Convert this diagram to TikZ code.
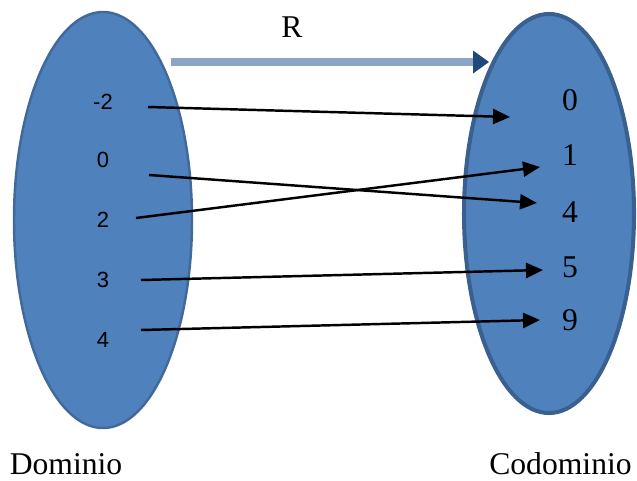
\documentclass[tikz,border=0pt]{standalone}
\usepackage{fontspec}
\setmainfont{Liberation Serif}
\newfontfamily\etiq{Liberation Sans}
\usetikzlibrary{arrows.meta}

\definecolor{conjunto}{HTML}{4F81BD}
\definecolor{bordeA}{HTML}{41699A}
\definecolor{bordeB}{HTML}{3A6090}
\definecolor{relacion}{HTML}{8DA5C4}
\definecolor{punta}{HTML}{1F487C}

\begin{document}
\begin{tikzpicture}[
  conj/.style={fill=conjunto},
  dom/.style={font=\etiq\fontsize{12.5}{14}\selectfont},
  cod/.style={font=\fontsize{18}{20}\selectfont},
  flecha/.style={line width=1.4pt,-{Triangle[length=0.34cm,width=0.3cm]}}
]
  \useasboundingbox (0,0) rectangle (12.74,9.6);

  %conjuntos
  \draw[conj,draw=bordeA,line width=1.4pt] (2.06,5.2) ellipse (1.78 and 4.16);
  \draw[conj,draw=bordeB,line width=2.3pt] (10.98,5.33) ellipse (1.70 and 3.99);

  %relacion R
  \node[cod,anchor=base] (R) at (5.84,8.86) {R};
  \coordinate (r0) at (3.42,8.36);
  \coordinate (r1) at (9.78,8.36);
  \draw[relacion,line width=4.5pt,-{Triangle[length=0.32cm,width=0.46cm,line width=0pt,color=punta]}] (r0) -- (r1);

  %dominio
  \node[dom] (dm2) at (2.06,7.56) {-2};
  \node[dom] (d0)  at (2.06,6.40) {0};
  \node[dom] (d2)  at (2.06,5.20) {2};
  \node[dom] (d3)  at (2.06,4.00) {3};
  \node[dom] (d4)  at (2.06,2.80) {4};

  %codominio
  \node[cod] (c0) at (11.40,7.60) {0};
  \node[cod] (c1) at (11.40,6.50) {1};
  \node[cod] (c4) at (11.40,5.36) {4};
  \node[cod] (c5) at (11.40,4.26) {5};
  \node[cod] (c9) at (11.40,3.20) {9};

  %pares
  \coordinate (s1) at (2.96,7.46);
  \coordinate (s2) at (2.98,6.10);
  \coordinate (s3) at (2.72,5.24);
  \coordinate (s4) at (2.82,4.00);
  \coordinate (s5) at (2.82,3.00);

  \coordinate (t1) at (10.20,7.26);
  \coordinate (t2) at (10.74,5.54);
  \coordinate (t3) at (10.80,6.26);
  \coordinate (t4) at (10.86,4.20);
  \coordinate (t5) at (10.80,3.20);

  \draw[flecha] (s1) -- (t1);
  \draw[flecha] (s2) -- (t2);
  \draw[flecha] (s3) -- (t3);
  \draw[flecha] (s4) -- (t4);
  \draw[flecha] (s5) -- (t5);

  %labels
  \node[cod,anchor=base,inner sep=1pt] (dom) at (1.32,0.12) {Dominio};
  \node[cod,anchor=base,inner sep=1pt] (codom) at (11.21,0.12) {Codominio};

\end{tikzpicture}
\end{document}
